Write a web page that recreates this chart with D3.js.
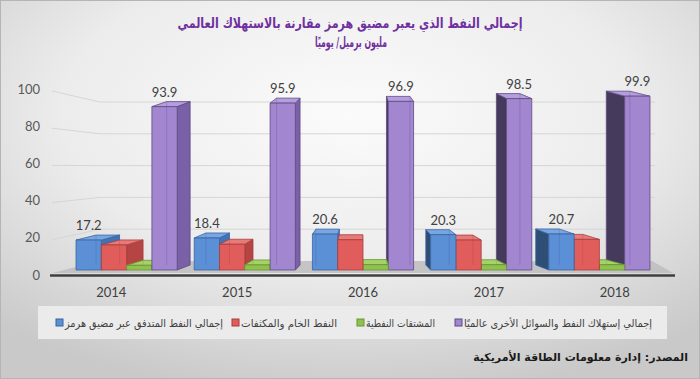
<!DOCTYPE html>
<html><head><meta charset="utf-8">
<script src="https://cdn.jsdelivr.net/npm/d3@7/dist/d3.min.js"></script>
<style>
html,body{margin:0;padding:0;background:#fff;}
svg{display:block;}
</style></head>
<body><svg id="chart" width="700" height="379"></svg>
<script>
const years = ["2014", "2015", "2016", "2017", "2018"];
const seriesKeys = ["hormuz", "crude", "products", "world"];
const seriesNames = [
  "إجمالي النفط المتدفق عبر مضيق هرمز",
  "النفط الخام والمكثفات",
  "المشتقات النفطية",
  "إجمالي إستهلاك النفط والسوائل الأخرى عالميًا"
];
const hormuzTotal = [17.2, 18.4, 20.6, 20.3, 20.7];
const crudeCondensate = [14.4, 14.8, 17.4, 17.2, 17.6];
const petroleumProducts = [2.7, 2.9, 3.1, 3.0, 3.0];
const worldConsumption = [93.9, 95.9, 96.9, 98.5, 99.9];
const yTicks = [0, 20, 40, 60, 80, 100];
const labelledSeries = ["hormuz", "world"];
const titleLines = ["إجمالي النفط الذي يعبر مضيق هرمز مقارنة بالاستهلاك العالمي", "مليون برميل/ يوميًا"];
const sourceText = "المصدر: إدارة معلومات الطاقة الأمريكية";

const seriesValues = {hormuz: hormuzTotal, crude: crudeCondensate, products: petroleumProducts, world: worldConsumption};
const palette = {
  hormuz:   {front: "#5b8fd6", top: "#78a6e3", sideR: "#4173b6", sideL: "#2f4e76", stroke: "#3a64a0"},
  crude:    {front: "#e05d5b", top: "#e87a78", sideR: "#b54543", sideL: "#8e3432", stroke: "#a63e3c"},
  products: {front: "#8fc14e", top: "#a5d36a", sideR: "#6f9d35", sideL: "#5a802b", stroke: "#6a9434"},
  world:    {front: "#a286d0", top: "#b59de0", sideR: "#7a60a6", sideL: "#463a5c", stroke: "#5d4a80"}
};

const W = 700, H = 379;
const svg = d3.select("#chart");
const defs = svg.append("defs");
const rg = defs.append("radialGradient").attr("id", "bg").attr("cx", "50%").attr("cy", "30%").attr("r", "75%");
rg.append("stop").attr("offset", "0%").attr("stop-color", "#fbfbfb");
rg.append("stop").attr("offset", "55%").attr("stop-color", "#ececec");
rg.append("stop").attr("offset", "100%").attr("stop-color", "#c9c9c9");
svg.append("rect").attr("width", W).attr("height", H).attr("fill", "url(#bg)");
svg.append("rect").attr("x", 0.5).attr("y", 0.5).attr("width", W - 1).attr("height", H - 1)
  .attr("fill", "none").attr("stroke", "#b5b5b5");

// Title
const title = svg.append("g").attr("font-family", "'DejaVu Sans', sans-serif").attr("font-weight", "bold").attr("fill", "#7030a0").attr("text-anchor", "middle");
title.append("text").attr("x", 350).attr("y", 28).attr("font-size", 14)
  .attr("textLength", 345).attr("lengthAdjust", "spacingAndGlyphs").text(titleLines[0]);
title.append("text").attr("x", 351).attr("y", 47).attr("font-size", 14)
  .attr("textLength", 72).attr("lengthAdjust", "spacingAndGlyphs").text(titleLines[1]);

// Scales
const x0 = d3.scaleBand().domain(years).range([67.5, 658.5]).paddingInner(0.144).paddingOuter(0.072);
const x1 = d3.scaleBand().domain(seriesKeys).range([0, x0.bandwidth()]);
const yBar = d3.scaleLinear().domain([0, 100]).range([270, 96]);
const yLabel = d3.scaleLinear().domain([0, 100]).range([275, 89]);
const yBack = d3.scaleLinear().domain([0, 100]).range([261, 102]);
const VX = 362, K = 0.93, DY = 5;
const px = x => VX + K * (x - VX);

// Gridlines (side wall + back wall)
const grid = svg.append("g").attr("stroke", "#d6d6d6").attr("stroke-width", 1).attr("fill", "none");
yTicks.filter(v => v > 0).forEach(v => {
  grid.append("path").attr("d", `M52,${yLabel(v) + 2}L100,${yBack(v)}L655,${yBack(v)}`);
});

// Y axis labels
const yAxis = svg.append("g").attr("transform", "translate(40,0)")
  .call(d3.axisLeft(yLabel).tickValues(yTicks).tickSize(0).tickPadding(0));
yAxis.select(".domain").remove();
yAxis.selectAll("text").attr("font-family", "Lato, 'Open Sans', sans-serif").attr("font-size", 13).attr("fill", "#595959");

// Floor
svg.append("path").attr("d", `M52,273L673,273L652,261L100,261Z`).attr("fill", "#bdbdbd").attr("opacity", 0.85);
svg.append("line").attr("x1", 50).attr("x2", 675).attr("y1", 275.5).attr("y2", 275.5)
  .attr("stroke", "#3f3f3f").attr("stroke-width", 2.5);

// Bars
const bars = [];
years.forEach((yr, i) => {
  seriesKeys.forEach(k => {
    const xa = x0(yr) + x1(k), xb = xa + x1.bandwidth();
    bars.push({yr, k, v: seriesValues[k][i], xa, xb, c: (xa + xb) / 2});
  });
});
bars.sort((a, b) => Math.abs(b.c - VX) - Math.abs(a.c - VX));
const gBars = svg.append("g").attr("stroke-width", 0.8).attr("stroke-linejoin", "round");
bars.forEach(b => {
  const col = palette[b.k];
  const yt = yBar(b.v), yb = yBar(0);
  const bxa = px(b.xa), bxb = px(b.xb), byt = yt - DY, byb = yb - DY;
  const g = gBars.append("g").attr("stroke", col.stroke);
  if (b.xb < VX) {
    g.append("path").attr("d", `M${b.xb},${yt}L${bxb},${byt}L${bxb},${byb}L${b.xb},${yb}Z`).attr("fill", col.sideR);
  } else if (b.xa > VX) {
    g.append("path").attr("d", `M${b.xa},${yt}L${bxa},${byt}L${bxa},${byb}L${b.xa},${yb}Z`).attr("fill", col.sideL);
  }
  g.append("path").attr("d", `M${b.xa},${yt}L${bxa},${byt}L${bxb},${byt}L${b.xb},${yt}Z`).attr("fill", col.top);
  g.append("rect").attr("x", b.xa).attr("y", yt).attr("width", b.xb - b.xa).attr("height", yb - yt).attr("fill", col.front);
  const inner = b.xb < VX ? bxa : (b.xa > VX ? bxb : null);
  if (inner !== null && inner > b.xa && inner < b.xb) {
    g.append("line").attr("x1", inner).attr("x2", inner).attr("y1", byt).attr("y2", byb)
      .attr("stroke", col.stroke).attr("stroke-opacity", 0.35);
  }
});

// Value labels
const gVal = svg.append("g").attr("font-family", "Lato, 'Open Sans', sans-serif").attr("font-size", 13).attr("fill", "#404040").attr("text-anchor", "middle");
bars.filter(b => labelledSeries.includes(b.k)).forEach(b => {
  gVal.append("text").attr("x", b.c).attr("y", yBar(b.v) - 10).text(b.v.toFixed(1));
});

// Year labels (projected from the front edge)
const gYear = svg.append("g").attr("font-family", "Lato, 'Open Sans', sans-serif").attr("font-size", 13).attr("fill", "#404040").attr("text-anchor", "middle");
years.forEach(yr => {
  const c = x0(yr) + x0.bandwidth() / 2;
  gYear.append("text").attr("x", VX + 1.065 * (c - VX)).attr("y", 297).text(yr);
});

// Legend
svg.append("rect").attr("x", 38).attr("y", 306).attr("width", 629).attr("height", 33).attr("fill", "#ebebeb");
const legendPos = [
  {sq: 56, tx: 65, w: 158},
  {sq: 232, tx: 241, w: 96},
  {sq: 357, tx: 366, w: 69},
  {sq: 455, tx: 464, w: 188}
];
const gLeg = svg.append("g");
seriesKeys.forEach((k, i) => {
  const p = legendPos[i];
  gLeg.append("rect").attr("x", p.sq).attr("y", 319).attr("width", 7).attr("height", 7)
    .attr("fill", palette[k].front).attr("stroke", palette[k].stroke).attr("stroke-width", 1);
  gLeg.append("text").attr("x", p.tx).attr("y", 327).attr("font-family", "'DejaVu Sans', sans-serif")
    .attr("font-size", 10.5).attr("fill", "#404040").attr("textLength", p.w).attr("lengthAdjust", "spacingAndGlyphs")
    .text(seriesNames[i]);
});

// Source
svg.append("text").attr("x", 688).attr("y", 361).attr("text-anchor", "end")
  .attr("font-family", "'DejaVu Sans', sans-serif").attr("font-weight", "bold").attr("font-size", 11)
  .attr("fill", "#1a1a1a").text(sourceText);
</script></body></html>
